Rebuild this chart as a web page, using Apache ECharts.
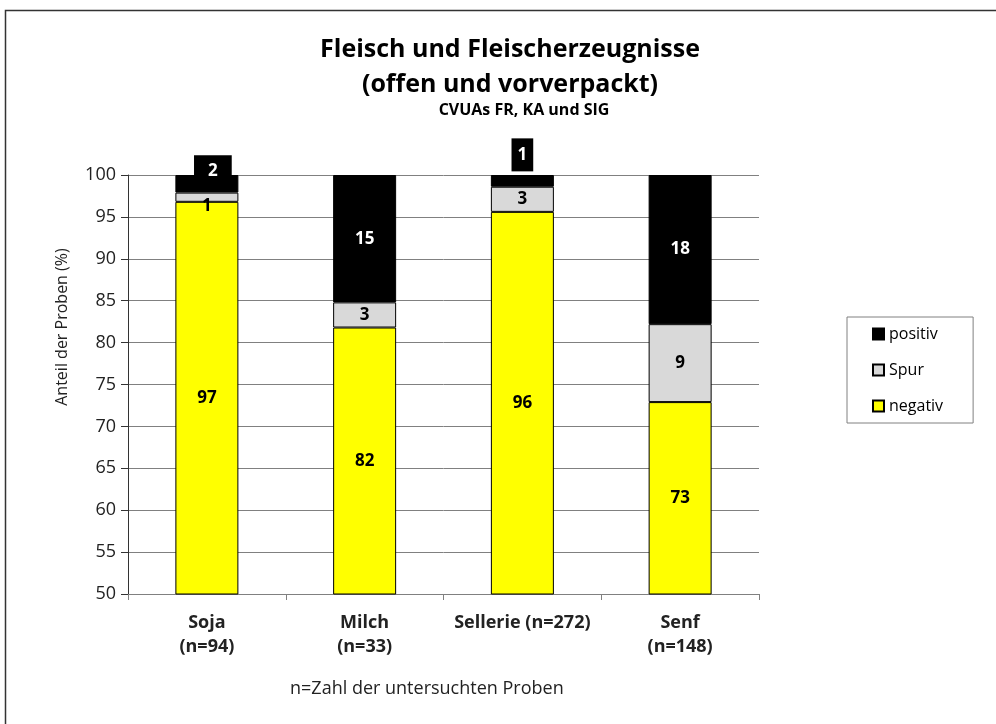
<!DOCTYPE html>
<html>
<head>
<meta charset="utf-8">
<script src="https://cdn.jsdelivr.net/npm/echarts@6/dist/echarts.min.js"></script>
<style>
  html, body { margin: 0; padding: 0; background: #fff; }
  #chart { width: 996px; height: 724px; }
</style>
</head>
<body>
<div id="chart"></div>
<script>
// categories with sample counts
const categories = ['Soja\n(n=94)', 'Milch\n(n=33)', 'Sellerie (n=272)', 'Senf\n(n=148)'];

// shares in percent
const negativ = [96.8, 81.8, 95.6, 72.9];
const spur    = [1.1, 3.0, 3.0, 9.3];
const positiv = [2.1, 15.2, 1.4, 17.8];

const yTicks = { min: 50, max: 100, interval: 5 };

const FONT = '"Open Sans", "Liberation Sans", Arial, sans-serif';

const chart = echarts.init(document.getElementById('chart'), null, { renderer: 'canvas' });

const baseLabel = {
  show: true,
  position: 'inside',
  fontFamily: FONT,
  fontSize: 17,
  fontWeight: 'bold',
  color: '#000',
  formatter: (p) => Math.round(p.value)
};

// the small positive shares get their label drawn above the bar on a black box
const positivData = positiv.map((v, i) => {
  if (i === 0) return { value: v, label: { offset: [6, -13], backgroundColor: '#000', padding: [8, 14, 6, 14] } };
  if (i === 2) return { value: v, label: { offset: [0, -26], backgroundColor: '#000', padding: [8, 6, 8, 6] } };
  return v;
});

const spurData = spur.map((v, i) => i === 0 ? { value: v, label: { offset: [0, 9] } } : v);

const barStyle = (color) => ({ color, borderColor: '#000', borderWidth: 1 });

chart.setOption({
  animation: false,
  backgroundColor: '#fff',
  title: [
    {
      text: 'Fleisch und Fleischerzeugnisse\n(offen und vorverpackt)',
      left: 505, top: 27, textAlign: 'center',
      textStyle: { fontFamily: FONT, fontSize: 25, fontWeight: 'bold', color: '#000', lineHeight: 35 }
    },
    {
      text: 'CVUAs FR, KA und SIG',
      left: 519, top: 97, textAlign: 'center',
      textStyle: { fontFamily: FONT, fontSize: 16, fontWeight: 'bold', color: '#000' }
    }
  ],
  legend: {
    orient: 'vertical',
    left: 847, top: 317,
    data: ['positiv', 'Spur', 'negativ'],
    itemWidth: 11, itemHeight: 11,
    itemGap: 20,
    padding: [9, 30, 9, 25],
    borderColor: '#808080', borderWidth: 1,
    icon: 'rect',
    textStyle: { fontFamily: FONT, fontSize: 16, color: '#000' }
  },
  grid: { left: 128, right: 237, top: 175, bottom: 130 },
  xAxis: {
    type: 'category',
    data: categories,
    axisLine: { lineStyle: { color: '#808080', width: 1 } },
    axisTick: { show: true, length: 6, lineStyle: { color: '#808080' } },
    axisLabel: {
      interval: 0, hideOverlap: false,
      fontFamily: FONT, fontSize: 18, fontWeight: 'bold', color: '#222',
      margin: 17, lineHeight: 24
    }
  },
  yAxis: {
    type: 'value',
    min: yTicks.min, max: yTicks.max, interval: yTicks.interval,
    axisLine: { show: true, lineStyle: { color: '#333' } },
    axisTick: { show: true, length: 7, lineStyle: { color: '#333' } },
    axisLabel: { fontFamily: FONT, fontSize: 18, color: '#222', margin: 12 },
    splitLine: { lineStyle: { color: '#808080', width: 1 } }
  },
  series: [
    {
      name: 'negativ', type: 'bar', stack: 'a', barWidth: 63,
      data: negativ,
      itemStyle: barStyle('#ffff00'),
      label: baseLabel
    },
    {
      name: 'Spur', type: 'bar', stack: 'a',
      data: spurData,
      itemStyle: barStyle('#d9d9d9'),
      label: baseLabel
    },
    {
      name: 'positiv', type: 'bar', stack: 'a',
      data: positivData,
      itemStyle: barStyle('#000'),
      label: { ...baseLabel, color: '#fff' }
    }
  ],
  graphic: [
    {
      type: 'rect',
      shape: { x: 5.5, y: 10.5, width: 1100, height: 800 },
      style: { fill: null, stroke: '#333', lineWidth: 1.5 },
      silent: true
    },
    {
      type: 'text',
      x: 62, y: 327, rotation: Math.PI / 2,
      style: {
        text: 'Anteil der Proben (%)',
        fontFamily: FONT, fontSize: 16, fill: '#222',
        textAlign: 'center', textVerticalAlign: 'middle'
      }
    },
    {
      type: 'text',
      left: 290, top: 680,
      style: { text: 'n=Zahl der untersuchten Proben', fontFamily: FONT, fontSize: 18, fill: '#222' }
    }
  ]
});
</script>
</body>
</html>
